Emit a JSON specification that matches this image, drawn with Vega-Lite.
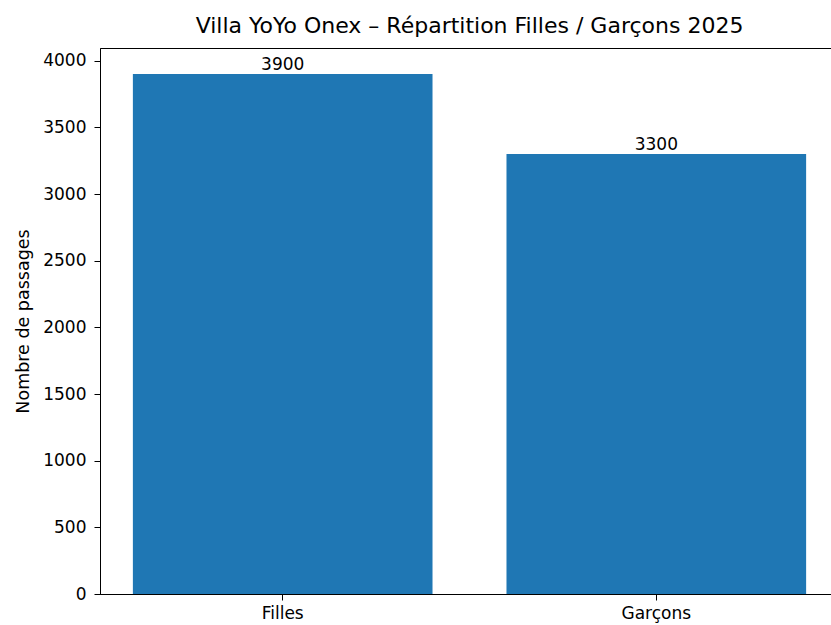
{
  "$schema": "https://vega.github.io/schema/vega-lite/v6.json",
  "width": 739,
  "height": 546,
  "autosize": "none",
  "padding": {"left": 100, "top": 48, "right": 0, "bottom": 31},
  "background": "white",
  "config": {
    "font": "DejaVu Sans",
    "view": {"stroke": "#000000", "strokeWidth": 1},
    "axis": {"grid": false, "domainColor": "#000000", "tickColor": "#000000", "labelColor": "#000000", "titleColor": "#000000", "labelFontSize": 17, "titleFontSize": 17.5, "titleFontWeight": "normal", "tickSize": 6, "labelFont": "DejaVu Sans", "titleFont": "DejaVu Sans"}
  },
  "title": {"text": "Villa YoYo Onex – Répartition Filles / Garçons 2025", "fontSize": 22, "fontWeight": "normal", "font": "DejaVu Sans", "color": "#000000", "anchor": "middle", "offset": 10},
  "data": {"values": [
    {"genre": "Filles", "passages": 3900},
    {"genre": "Garçons", "passages": 3300}
  ]},
  "encoding": {
    "x": {"field": "genre", "type": "nominal", "sort": null, "scale": {"paddingInner": 0.198, "paddingOuter": 0.088}, "axis": {"title": null, "labelAngle": 0, "labelPadding": 5}},
    "y": {"field": "passages", "type": "quantitative", "scale": {"domain": [0, 4095], "nice": false, "zero": true}, "axis": {"title": "Nombre de passages", "format": "d", "values": [0, 500, 1000, 1500, 2000, 2500, 3000, 3500, 4000], "labelPadding": 8, "titlePadding": 10}}
  },
  "layer": [
    {"mark": {"type": "bar", "color": "#1f77b4"}},
    {"mark": {"type": "text", "baseline": "alphabetic", "dy": -4, "fontSize": 17, "color": "#000000", "font": "DejaVu Sans"}, "encoding": {"text": {"field": "passages", "type": "quantitative", "format": "d"}}}
  ]
}
